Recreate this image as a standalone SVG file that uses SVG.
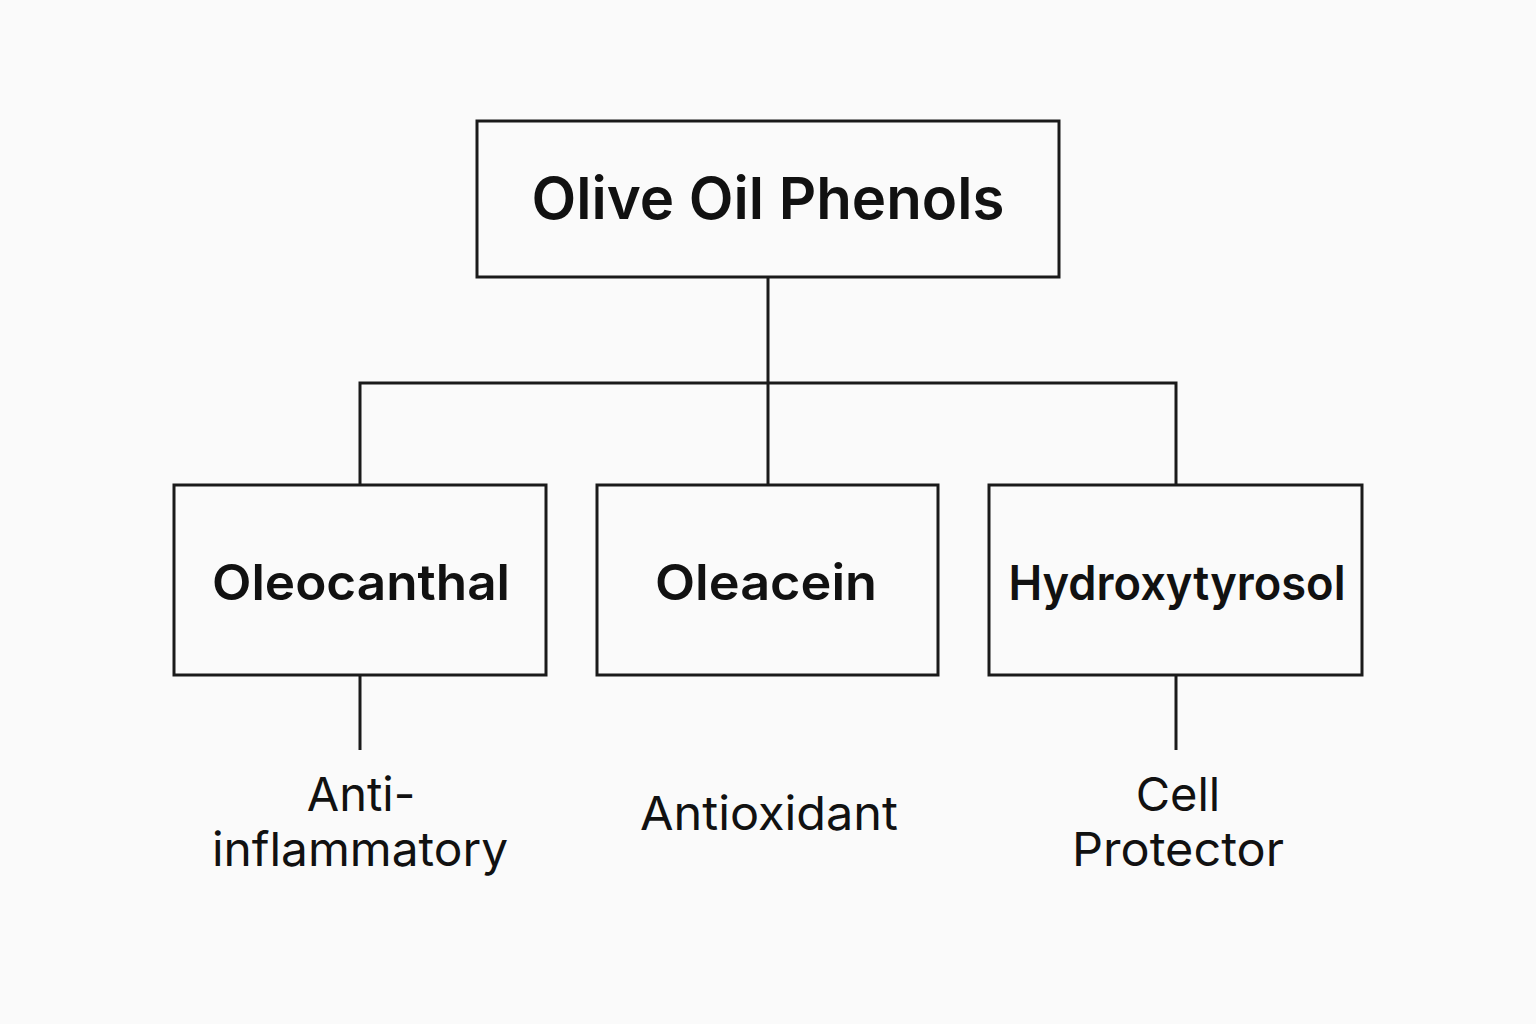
<svg xmlns="http://www.w3.org/2000/svg" width="1536" height="1024" viewBox="0 0 1536 1024">
<style>
.box{fill:none;stroke:#1a1a1a;stroke-width:3}
.ln{fill:none;stroke:#1a1a1a;stroke-width:3}
.t{font-family:Inter,"Liberation Sans",sans-serif;font-weight:600;fill:#111;text-anchor:middle}
.s{font-family:Inter,"Liberation Sans",sans-serif;font-size:47px;fill:#111;text-anchor:middle}
</style>
<rect width="1536" height="1024" fill="#fafafa"/>
<g id="connectors">
<path class="ln" d="M768 277V484M360 484V383H1176V484M360 676V750M1176 676V750"/>
</g>
<g id="root"><rect class="box" x="477" y="121" width="582" height="156"/><text class="t" x="768" y="219" font-size="58" textLength="473" lengthAdjust="spacingAndGlyphs">Olive Oil Phenols</text></g>
<g id="oleocanthal"><rect class="box" x="174" y="485" width="372" height="190"/><text class="t" x="361" y="600" font-size="50" textLength="298" lengthAdjust="spacingAndGlyphs">Oleocanthal</text></g>
<g id="oleacein"><rect class="box" x="597" y="485" width="341" height="190"/><text class="t" x="766" y="600" font-size="50" textLength="222" lengthAdjust="spacingAndGlyphs">Oleacein</text></g>
<g id="hydroxytyrosol"><rect class="box" x="989" y="485" width="373" height="190"/><text class="t" x="1177" y="600" font-size="48" textLength="337" lengthAdjust="spacingAndGlyphs">Hydroxytyrosol</text></g>
<g id="l1"><text class="s" x="361" y="811">Anti-</text><text class="s" x="360" y="866" textLength="296" lengthAdjust="spacingAndGlyphs">inflammatory</text></g>
<g id="l2"><text class="s" x="769" y="830" textLength="258" lengthAdjust="spacingAndGlyphs">Antioxidant</text></g>
<g id="l3"><text class="s" x="1178" y="811">Cell</text><text class="s" x="1178" y="866" textLength="212" lengthAdjust="spacingAndGlyphs">Protector</text></g>
</svg>
